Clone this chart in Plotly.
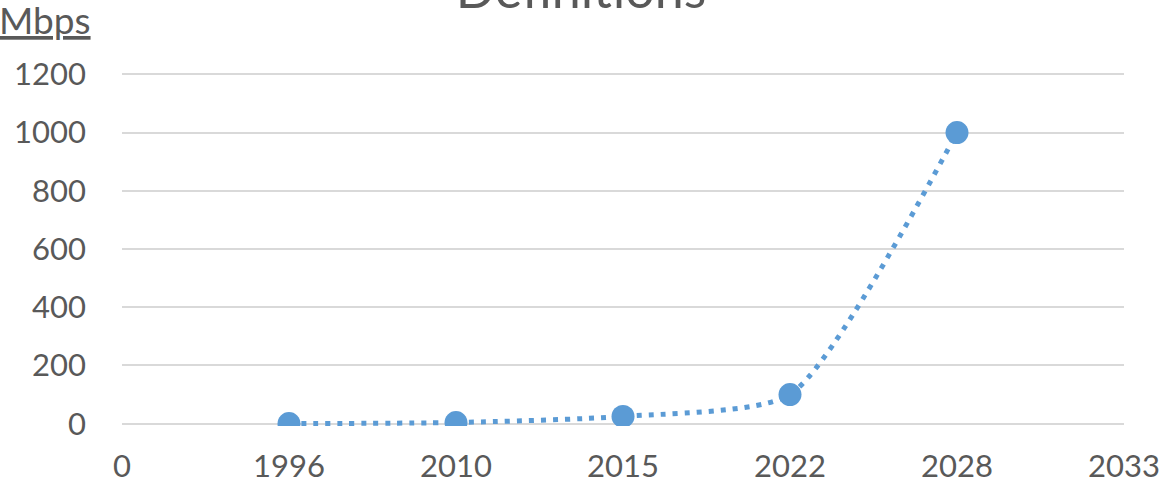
import plotly.graph_objects as go

x_pos = [1, 2, 3, 4, 5]
years = ["1996", "2010", "2015", "2022", "2028"]
mbps = [0.2, 4, 25, 100, 1000]
x_tickvals = [0, 1, 2, 3, 4, 5, 6]
x_ticktext = ["0", "1996", "2010", "2015", "2022", "2028", "2033"]
y_tickvals = [0, 200, 400, 600, 800, 1000, 1200]

blue = "#5B9BD5"
gray = "#595959"
grid = "#D9D9D9"
font_family = "Lato, 'Open Sans', sans-serif"

fig = go.Figure()
fig.add_trace(go.Scatter(
    x=x_pos, y=mbps, mode="lines+markers",
    line=dict(color=blue, width=5, dash="5px,7px", shape="spline", smoothing=0.6),
    marker=dict(color=blue, size=23),
    text=years, hoverinfo="text+y",
))

fig.update_layout(
    width=1169, height=485,
    margin=dict(l=122, r=45, t=72, b=59, autoexpand=False),
    paper_bgcolor="white", plot_bgcolor="white",
    showlegend=False,
    font=dict(family=font_family, color=gray, size=31),
    title=dict(text="Definitions", x=0.497, xref="container", xanchor="center",
               yref="container", y=0.984, yanchor="bottom", automargin=False,
               font=dict(size=52, color=gray, family=font_family)),
    xaxis=dict(range=[0, 6], tickvals=x_tickvals, ticktext=x_ticktext,
               showgrid=False, zeroline=False, showline=False, automargin=False,
               ticks="", ticklabelstandoff=19,
               tickfont=dict(size=31, color=gray)),
    yaxis=dict(range=[-8, 1208], tickvals=y_tickvals, automargin=False,
               showgrid=True, gridcolor=grid, gridwidth=2,
               zeroline=True, zerolinecolor=grid, zerolinewidth=2,
               showline=False, ticks="", ticklabelstandoff=35,
               tickfont=dict(size=31, color=gray)),
    annotations=[dict(text="<u>Mbps</u>", xref="paper", yref="paper",
                      x=-125/1002, y=1 + (72-19)/354, xanchor="left", yanchor="middle",
                      showarrow=False, font=dict(size=37, color=gray, family=font_family))],
)

fig.write_html(
    "out.html",
    config={"displayModeBar": False},
    post_script="document.body.style.margin='0';document.body.style.padding='0';",
)
